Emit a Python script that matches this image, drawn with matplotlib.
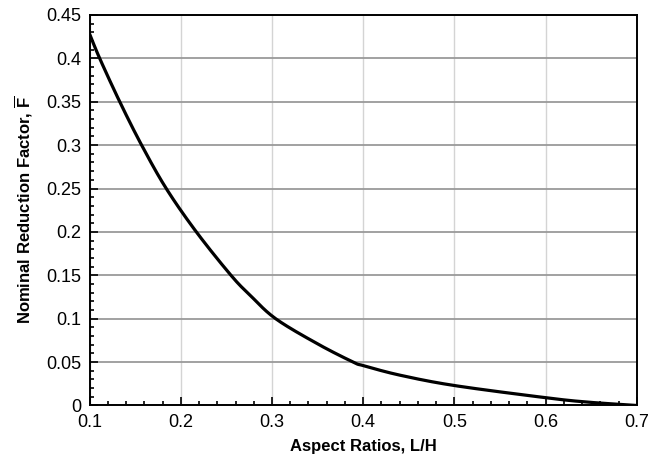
import matplotlib
matplotlib.use("Agg")
import matplotlib.pyplot as plt
import numpy as np
from matplotlib.ticker import MultipleLocator

aspect_ratio = [0.100, 0.111, 0.133, 0.157, 0.184, 0.217, 0.255, 0.276, 0.304,
                0.350, 0.389, 0.400, 0.440, 0.500, 0.600, 0.645, 0.700]
reduction = [0.428, 0.400, 0.350, 0.300, 0.250, 0.200, 0.150, 0.127, 0.100,
             0.071, 0.050, 0.046, 0.035, 0.023, 0.009, 0.004, 0.000]

plt.rcParams['font.family'] = ['Liberation Sans', 'DejaVu Sans']
plt.rcParams['mathtext.fontset'] = 'custom'
plt.rcParams['mathtext.rm'] = 'Liberation Sans'
plt.rcParams['mathtext.bf'] = 'Liberation Sans:bold'

fig = plt.figure(figsize=(6.64, 4.61), dpi=100)
ax = fig.add_axes([0.135, 0.1204, 0.824, 0.8472])

# smooth curve through read points (monotone cubic-ish via numpy interpolation on dense grid)
from matplotlib.path import Path
xs = np.array(aspect_ratio)
ys = np.array(reduction)
# Catmull-Rom style smoothing
def catmull(x, y, n=20):
    px = np.concatenate([[2*x[0]-x[1]], x, [2*x[-1]-x[-2]]])
    py = np.concatenate([[2*y[0]-y[1]], y, [2*y[-1]-y[-2]]])
    ox, oy = [], []
    for i in range(1, len(px)-2):
        t = np.linspace(0, 1, n, endpoint=False)
        for arr, out in ((px, ox), (py, oy)):
            p0, p1, p2, p3 = arr[i-1], arr[i], arr[i+1], arr[i+2]
            out.extend(0.5*((2*p1) + (-p0+p2)*t + (2*p0-5*p1+4*p2-p3)*t**2 + (-p0+3*p1-3*p2+p3)*t**3))
    ox.append(x[-1]); oy.append(y[-1])
    return np.array(ox), np.array(oy)

cx, cy = catmull(xs, ys)
ax.plot(cx, cy, color='black', lw=2.3, solid_capstyle='butt', zorder=3)

ax.set_xlim(0.1, 0.7)
ax.set_ylim(0, 0.45)
ax.xaxis.set_major_locator(MultipleLocator(0.1))
ax.xaxis.set_minor_locator(MultipleLocator(0.02))
ax.yaxis.set_major_locator(MultipleLocator(0.05))
ax.yaxis.set_minor_locator(MultipleLocator(0.01))

ax.set_xticks(np.arange(0.1, 0.71, 0.1))
ax.set_xticklabels(['0.1', '0.2', '0.3', '0.4', '0.5', '0.6', '0.7'])
yt = np.arange(0, 0.451, 0.05)
ax.set_yticks(yt)
ax.set_yticklabels(['0', '0.05', '0.1', '0.15', '0.2', '0.25', '0.3', '0.35', '0.4', '0.45'])

ax.grid(axis='y', which='major', color='#9a9a9a', lw=1.3)
ax.grid(axis='x', which='major', color='#d4d4d4', lw=1.0)
ax.set_axisbelow(True)

ax.tick_params(which='both', direction='in', top=False, right=False, labelsize=13, width=1.2, color='black')
ax.tick_params(which='major', length=6, pad=6)
ax.tick_params(which='minor', length=3)
for s in ax.spines.values():
    s.set_linewidth(1.4)
    s.set_zorder(4)

ax.set_xlabel('Aspect Ratios, L/H', fontsize=12, fontweight='bold', labelpad=6)
ax.set_ylabel(r'Nominal Reduction Factor, $\mathbf{\overline{F}}$', fontsize=12, fontweight='bold', labelpad=8)

fig.savefig('out.png', dpi=100)
